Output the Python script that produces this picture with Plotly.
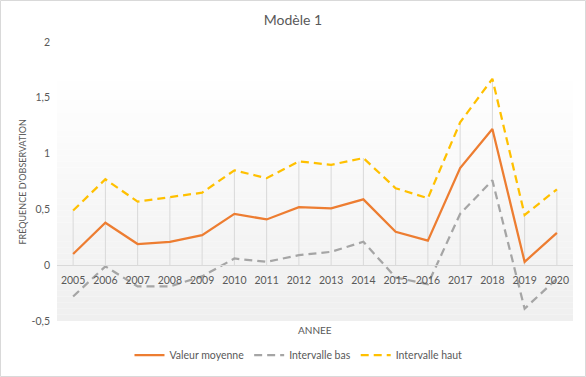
import plotly.graph_objects as go

years = [str(y) for y in range(2005, 2021)]
valeur_moyenne = [0.10, 0.38, 0.19, 0.21, 0.27, 0.46, 0.41, 0.52, 0.51, 0.59, 0.30, 0.22, 0.87, 1.22, 0.03, 0.29]
intervalle_bas = [-0.28, -0.01, -0.19, -0.19, -0.10, 0.06, 0.03, 0.09, 0.12, 0.21, -0.11, -0.17, 0.46, 0.76, -0.39, -0.12]
intervalle_haut = [0.49, 0.77, 0.57, 0.61, 0.65, 0.85, 0.78, 0.93, 0.90, 0.96, 0.69, 0.60, 1.28, 1.67, 0.45, 0.68]
y_ticks = [-0.5, 0, 0.5, 1, 1.5, 2]

W, H = 586, 377
L, R, T, B = 57, 13, 42, 56
pw, ph = W - L - R, H - T - B

FONT = "Lato"
GREY_TXT = "#595959"

x_idx = list(range(len(years)))

# drop lines from highest point to the axis
drop_x, drop_y = [], []
for i in x_idx:
    top = max(valeur_moyenne[i], intervalle_bas[i], intervalle_haut[i])
    drop_x += [i, i, None]
    drop_y += [0, top, None]

fig = go.Figure()
fig.add_trace(go.Scatter(x=drop_x, y=drop_y, mode="lines", line=dict(color="#d9d9d9", width=1),
                         showlegend=False, hoverinfo="skip"))
fig.add_trace(go.Scatter(x=x_idx, y=valeur_moyenne, mode="lines", name="Valeur moyenne",
                         line=dict(color="#ED7D31", width=2.25)))
fig.add_trace(go.Scatter(x=x_idx, y=intervalle_bas, mode="lines", name="Intervalle bas",
                         line=dict(color="#A5A5A5", width=2.25, dash="8px,5px")))
fig.add_trace(go.Scatter(x=x_idx, y=intervalle_haut, mode="lines", name="Intervalle haut",
                         line=dict(color="#FFC000", width=2.25, dash="8px,5px")))

# gradient plot-area background
shapes = []
n = 40
y_top, y_bot = 1.7, -0.5
for k in range(n):
    f0 = k / n
    f1 = (k + 1) / n
    c = int(round(255 - (255 - 239) * (f0 + f1) / 2))
    shapes.append(dict(type="rect", xref="x", yref="y", layer="below",
                       x0=-0.5, x1=15.5,
                       y0=y_top - (y_top - y_bot) * f0, y1=y_top - (y_top - y_bot) * f1,
                       fillcolor=f"rgb({c},{c},{c})", line=dict(width=0)))
# chart border
shapes.append(dict(type="rect", xref="paper", yref="paper",
                   x0=(0.5 - L) / pw, x1=(W - 0.5 - L) / pw,
                   y0=(H - B - (H - 0.5)) / ph, y1=(H - B - 0.5) / ph,
                   line=dict(color="#d9d9d9", width=1), fillcolor="rgba(0,0,0,0)"))

zero_pos = (ph - (265 - T)) / ph

fig.update_layout(
    width=W, height=H,
    margin=dict(l=L, r=R, t=T, b=B, autoexpand=False),
    paper_bgcolor="white", plot_bgcolor="rgba(0,0,0,0)",
    separators=", ",
    font=dict(family=FONT, color=GREY_TXT, size=10),
    title=dict(text="Modèle 1", x=0.5, xref="container", xanchor="center",
               y=1 - 20 / H, yanchor="middle", font=dict(size=14, color=GREY_TXT, family=FONT)),
    shapes=shapes,
    xaxis=dict(range=[-0.5, 15.5], tickmode="array", tickvals=x_idx, ticktext=years,
               showgrid=False, zeroline=False, showline=True, linecolor="#d9d9d9", linewidth=1,
               anchor="free", position=zero_pos, ticks="", ticklabelstandoff=5,
               tickfont=dict(size=10.5, color=GREY_TXT)),
    yaxis=dict(range=[-0.5, 2], tickmode="array", tickvals=y_ticks,
               ticktext=["-0,5", "0", "0,5", "1", "1,5", "2"],
               showgrid=False, zeroline=False, showline=False, ticks="",
               ticklabelstandoff=6, tickfont=dict(size=10.5, color=GREY_TXT)),
    legend=dict(orientation="h", x=0.468, xanchor="center", y=(H - B - 355) / ph, yanchor="middle",
                font=dict(size=10.5, color=GREY_TXT), bgcolor="rgba(0,0,0,0)", itemwidth=30),
    annotations=[
        dict(text="ANNEE", xref="paper", yref="paper", x=0.5, y=(H - B - 330) / ph,
             showarrow=False, xanchor="center", yanchor="middle", font=dict(size=10, color=GREY_TXT)),
        dict(text="FRÉQUENCE D'OBSERVATION", xref="paper", yref="paper", x=(22 - L) / pw,
             y=0.5, textangle=-90, showarrow=False, xanchor="center", yanchor="middle",
             font=dict(size=9, color=GREY_TXT)),
    ],
)

fig.write_html("out.html", config={"displayModeBar": False},
               post_script="document.body.style.margin='0px';")
